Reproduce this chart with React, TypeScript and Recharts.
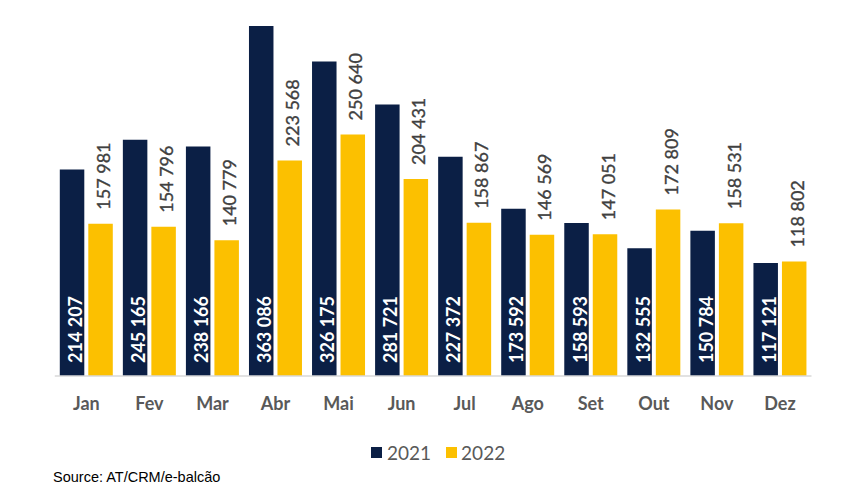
import React from "react";
import { BarChart, Bar, XAxis, YAxis, LabelList } from "recharts";

const months = ["Jan", "Fev", "Mar", "Abr", "Mai", "Jun", "Jul", "Ago", "Set", "Out", "Nov", "Dez"];
const values2021 = [214207, 245165, 238166, 363086, 326175, 281721, 227372, 173592, 158593, 132555, 150784, 117121];
const values2022 = [157981, 154796, 140779, 223568, 250640, 204431, 158867, 146569, 147051, 172809, 158531, 118802];
const seriesNames = ["2021", "2022"];
const sourceText = "Source: AT/CRM/e-balcão";

const NAVY = "#0b1f45";
const YELLOW = "#fcc000";

const data = months.map((m, i) => ({ month: m, v2021: values2021[i], v2022: values2022[i] }));

const fmt = (v: number) => {
  const s = String(v);
  return s.replace(/\B(?=(\d{3})+(?!\d))/g, " ");
};

const InsideLabel = (props: any) => {
  const { x, y, width, height, value } = props;
  const cx = x + width / 2 + 3;
  const cy = y + height - 13;
  return (
    <text
      x={cx}
      y={cy}
      transform={`rotate(-90 ${cx} ${cy})`}
      fill="#ffffff"
      fontFamily="Lato"
      fontWeight={700}
      fontSize={18}
      textAnchor="start"
      dominantBaseline="central"
    >
      {fmt(value)}
    </text>
  );
};

const TopLabel = (props: any) => {
  const { x, y, width, value } = props;
  const cx = x + width / 2 + 2.5;
  const cy = y - 14;
  return (
    <text
      x={cx}
      y={cy}
      transform={`rotate(-90 ${cx} ${cy})`}
      fill="#404040"
      stroke="#404040"
      strokeWidth={0.35}
      fontFamily="Lato"
      fontWeight={400}
      fontSize={18}
      textAnchor="start"
      dominantBaseline="central"
    >
      {fmt(value)}
    </text>
  );
};

export default function App() {
  return (
    <div style={{ position: "relative", width: 852, height: 480, background: "#fff" }}>
      <BarChart
        width={852}
        height={408}
        data={data}
        margin={{ top: 18, right: 48.5, left: 46.8, bottom: 0 }}
        barSize={24.5}
        barGap={4}
      >
        <XAxis
          dataKey="month"
          height={40}
          axisLine={{ stroke: "#d9d9d9", strokeWidth: 1.5 }}
          tickLine={false}
          tickSize={6}
          tickMargin={15}
          tick={{ fill: "#595959", fontSize: 18, fontWeight: 700, fontFamily: "Lato" }}
          interval={0}
        />
        <YAxis hide domain={[0, 363086]} />
        <Bar dataKey="v2021" name={seriesNames[0]} fill={NAVY} isAnimationActive={false}>
          <LabelList dataKey="v2021" content={InsideLabel} />
        </Bar>
        <Bar dataKey="v2022" name={seriesNames[1]} fill={YELLOW} isAnimationActive={false}>
          <LabelList dataKey="v2022" content={TopLabel} />
        </Bar>
      </BarChart>
      <div
        style={{
          position: "absolute",
          left: 363,
          top: 434,
          height: 20,
          display: "flex",
          alignItems: "center",
          fontFamily: "Lato",
          fontSize: 19,
          color: "#595959",
        }}
      >
        <span style={{ display: "inline-block", width: 11, height: 11, background: NAVY, marginRight: 5 }} />
        <span style={{ marginRight: 15 }}>{seriesNames[0]}</span>
        <span style={{ display: "inline-block", width: 11, height: 11, background: YELLOW, marginRight: 4 }} />
        <span>{seriesNames[1]}</span>
      </div>
      <div
        style={{
          position: "absolute",
          left: 45,
          top: 461,
          lineHeight: "16px",
          fontFamily: "Liberation Sans",
          fontSize: 14.5,
          color: "#000",
        }}
      >
        {sourceText}
      </div>
    </div>
  );
}
